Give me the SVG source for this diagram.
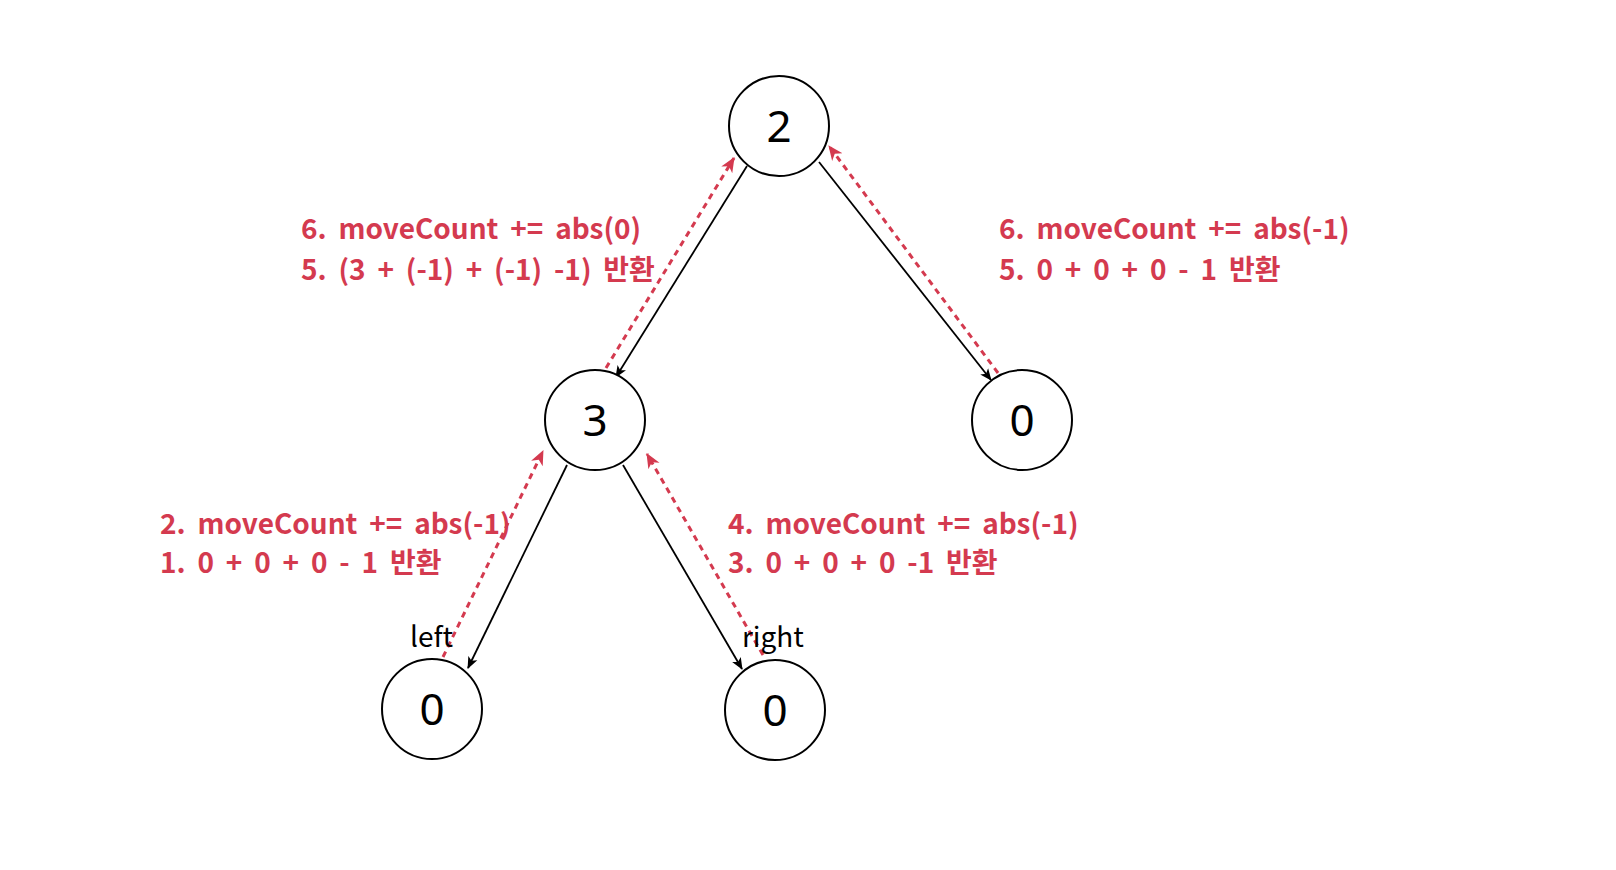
<svg xmlns="http://www.w3.org/2000/svg" width="1616" height="870" viewBox="0 0 1616 870">
<defs>
<style>
.node circle{fill:#fff;stroke:#000;stroke-width:2}
.num{font-family:"Noto Sans","Noto Sans CJK KR",sans-serif;font-size:44px;fill:#000;text-anchor:middle}
.lbl{font-family:"Noto Sans CJK KR","Noto Sans",sans-serif;font-size:28px;fill:#000}
.red{font-family:"Noto Sans CJK KR","Noto Sans",sans-serif;font-size:28px;font-weight:600;word-spacing:5.5px;fill:#d43a4f}
.edge{stroke:#000;stroke-width:1.8;fill:none;marker-end:url(#ab)}
.ret{stroke:#d43a4f;stroke-width:3;stroke-dasharray:6 5;fill:none;marker-end:url(#ar)}
</style>
<marker id="ab" viewBox="0 0 12 12" refX="11" refY="6" markerWidth="12" markerHeight="12" markerUnits="userSpaceOnUse" orient="auto">
<path d="M0,1 L12,6 L0,11 L3,6 Z" fill="#000"/>
</marker>
<marker id="ar" viewBox="0 0 14 14" refX="13" refY="7" markerWidth="15" markerHeight="15" markerUnits="userSpaceOnUse" orient="auto">
<path d="M0,1 L14,7 L0,13 L4,7 Z" fill="#d43a4f"/>
</marker>
</defs>
<rect width="1616" height="870" fill="#fff"/>
<g id="connectors">
<line class="edge" x1="747" y1="166" x2="616" y2="377"/>
<line class="edge" x1="819" y1="162" x2="991" y2="380"/>
<line class="edge" x1="567" y1="465" x2="468" y2="668"/>
<line class="edge" x1="623" y1="465" x2="742" y2="669"/>
<line class="ret" x1="606" y1="368" x2="734" y2="158"/>
<line class="ret" x1="998" y1="373" x2="829" y2="146"/>
<line class="ret" x1="443" y1="657" x2="543" y2="451"/>
<line class="ret" x1="763" y1="655" x2="647" y2="454"/>
</g>
<g id="n2" class="node"><circle cx="779" cy="126" r="50"/><text class="num" x="779" y="142">2</text></g>
<g id="n3" class="node"><circle cx="595" cy="420" r="50"/><text class="num" x="595" y="436">3</text></g>
<g id="n0r" class="node"><circle cx="1022" cy="420" r="50"/><text class="num" x="1022" y="436">0</text></g>
<g id="n0ll" class="node"><circle cx="432" cy="709" r="50"/><text class="num" x="432" y="725">0</text></g>
<g id="n0lr" class="node"><circle cx="775" cy="710" r="50"/><text class="num" x="775" y="726">0</text></g>
<g id="labels">
<text class="lbl" x="410" y="647">left</text>
<text class="lbl" x="742" y="647">right</text>
<text class="red" x="301" y="239">6. moveCount += abs(0)</text>
<text class="red" x="301" y="280">5. (3 + (-1) + (-1) -1) 반환</text>
<text class="red" x="999" y="239">6. moveCount += abs(-1)</text>
<text class="red" x="999" y="280">5. 0 + 0 + 0 - 1 반환</text>
<text class="red" x="160" y="534">2. moveCount += abs(-1)</text>
<text class="red" x="160" y="573">1. 0 + 0 + 0 - 1 반환</text>
<text class="red" x="728" y="534">4. moveCount += abs(-1)</text>
<text class="red" x="728" y="573">3. 0 + 0 + 0 -1 반환</text>
</g>
</svg>
